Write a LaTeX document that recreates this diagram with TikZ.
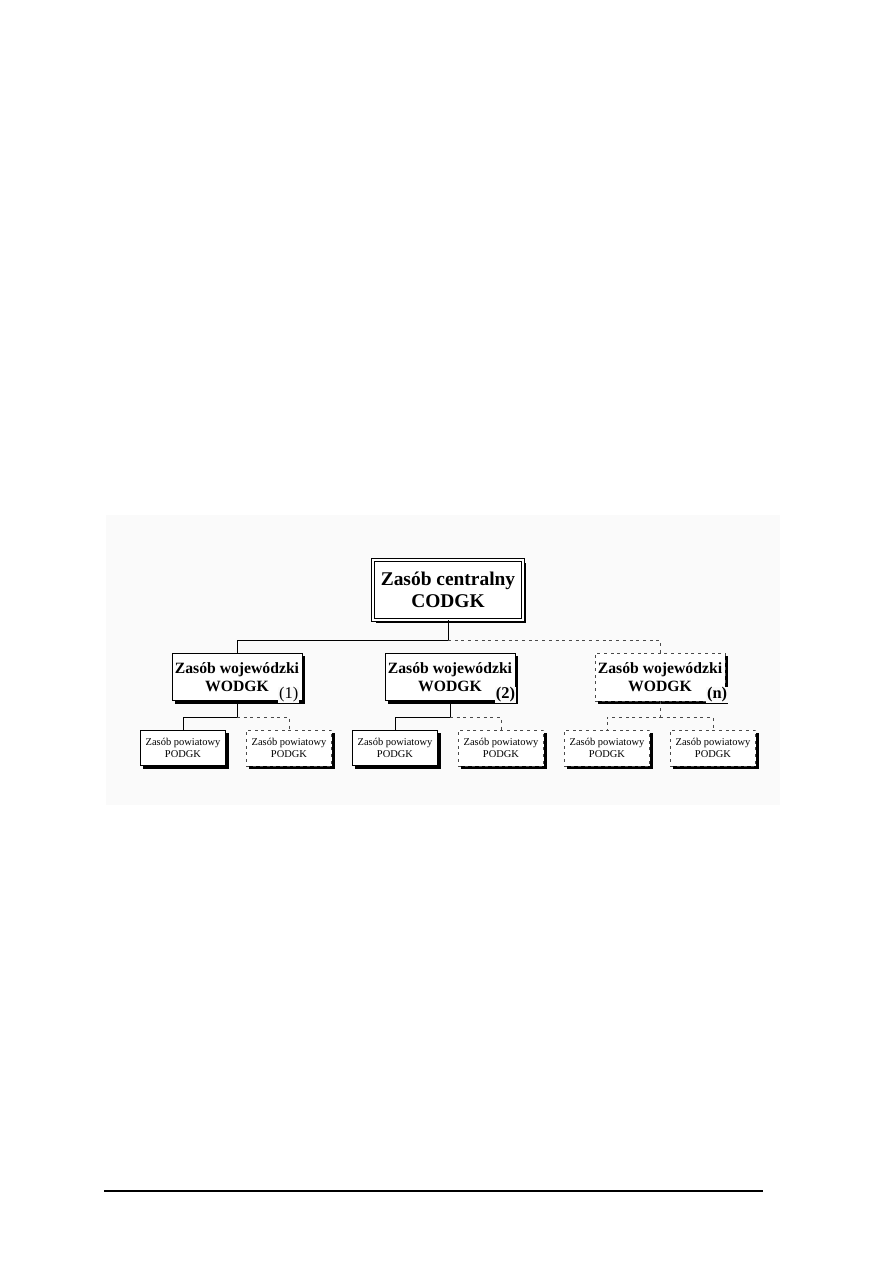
\documentclass[tikz,border=0pt]{standalone}
\usepackage{fontspec}
\setmainfont{Liberation Serif}
\usetikzlibrary{shadows,positioning}
\definecolor{panel}{HTML}{FAFAFA}
\definecolor{dotgray}{HTML}{4A4A4A}

\begin{document}
\begin{tikzpicture}[
    x=0.2352mm, y=-0.2352mm,
    box/.style={draw=black,line width=0.6pt,fill=white,align=center,inner sep=1pt,
      drop shadow={shadow xshift=2pt,shadow yshift=-2pt,fill=black,opacity=1}},
    topbox/.style={box,double,double distance=1.2pt,minimum width=100pt,minimum height=40pt,font=\fontsize{13}{15}\selectfont\bfseries},
    midbox/.style={box,minimum width=87pt,minimum height=32pt,font=\fontsize{10.5}{12.5}\selectfont\bfseries},
    smallbox/.style={box,minimum width=57pt,minimum height=24pt,font=\fontsize{7}{7.6}\selectfont},
    faint/.style={draw=dotgray,line width=0.5pt,dash pattern=on 2pt off 2.5pt},
    link/.style={line width=0.6pt},
    dotlink/.style={draw=dotgray,line width=0.5pt,dash pattern=on 2pt off 2.5pt},
    num/.style={fill=panel,inner sep=0.6pt,anchor=south east,font=\fontsize{11}{11}\selectfont}
]
\useasboundingbox (0,0) rectangle (893,1263);
\fill[panel] (106,515) rectangle (780,805);

\node[topbox] (cz) at (448,590) {Zasób centralny\\CODGK};
\node[midbox] (w1) at (237,677) {Zasób wojewódzki\\WODGK};
\node[midbox] (w2) at (450,677) {Zasób wojewódzki\\WODGK};
\node[midbox,faint] (wn) at (660,677) {Zasób wojewódzki\\WODGK};
\node[num] (n1) at ([xshift=-2pt,yshift=-1.5pt]w1.south east) {(1)};
\node[num] (n2) at ([xshift=0.5pt,yshift=-1.5pt]w2.south east) {\bfseries(2)};
\node[num] (nn) at ([xshift=2pt,yshift=-1.5pt]wn.south east) {\bfseries(n)};

\node[smallbox] (p1) at (183,748) {Zasób powiatowy\\PODGK};
\node[smallbox,faint] (p2) at (289,748) {Zasób powiatowy\\PODGK};
\node[smallbox] (p3) at (395,748) {Zasób powiatowy\\PODGK};
\node[smallbox,faint] (p4) at (501,748) {Zasób powiatowy\\PODGK};
\node[smallbox,faint] (p5) at (607,748) {Zasób powiatowy\\PODGK};
\node[smallbox,faint] (p6) at (713,748) {Zasób powiatowy\\PODGK};

\coordinate (j0) at (cz.south |- 0,640);
\draw[link] (cz.south) -- (j0) -| (w1.north);
\draw[dotlink] (j0) -| (wn.north);

\coordinate (j1) at (w1.south |- 0,717);
\draw[link] (w1.south) -- (j1) -| (p1.north);
\draw[dotlink] (j1) -| (p2.north);
\coordinate (j2) at (w2.south |- 0,717);
\draw[link] (w2.south) -- (j2) -| (p3.north);
\draw[dotlink] (j2) -| (p4.north);
\coordinate (jn) at (wn.south |- 0,717);
\draw[dotlink] (wn.south) -- (jn) -| (p5.north);
\draw[dotlink] (jn) -| (p6.north);

\draw[line width=0.7pt] (104,1191) -- (763,1191);
\end{tikzpicture}
\end{document}
